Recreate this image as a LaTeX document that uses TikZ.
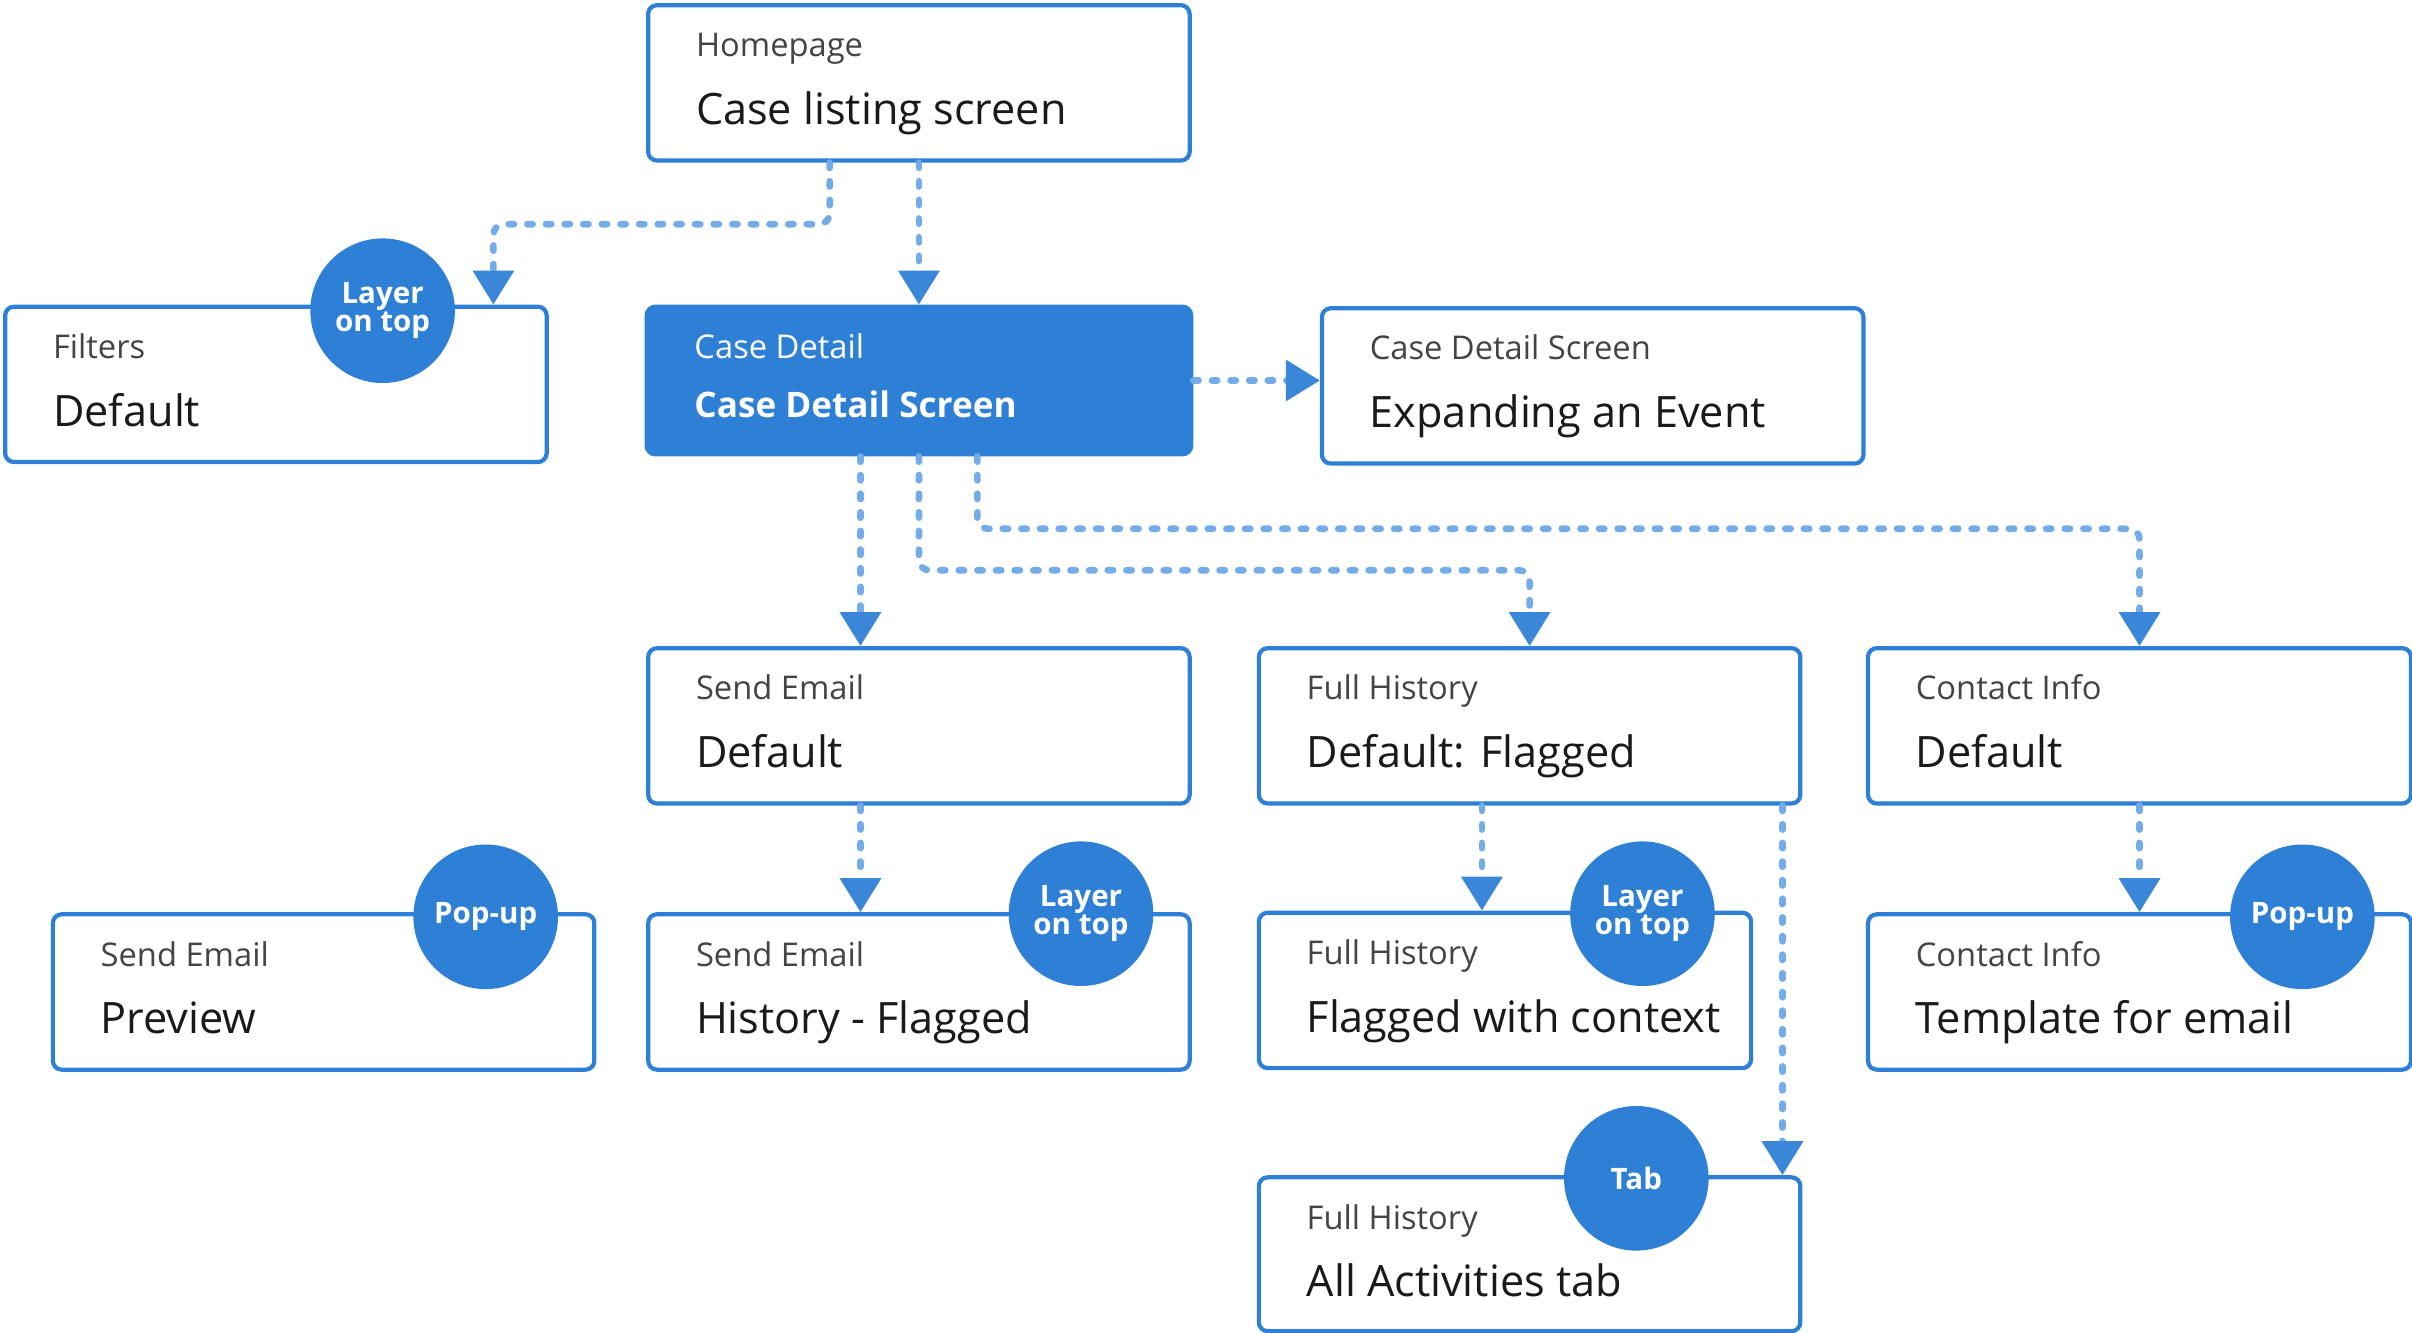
\documentclass[tikz,border=0pt]{standalone}
\usepackage{fontspec}
\setmainfont{Open Sans}
\usetikzlibrary{calc,arrows.meta}
\usepackage{xcolor}
\definecolor{brandblue}{HTML}{2E80D6}
\definecolor{flowblue}{HTML}{74ACE9}
\definecolor{tipblue}{HTML}{3A86D8}
\definecolor{subgrey}{HTML}{444444}
\definecolor{titleblack}{HTML}{1A1A1A}
\newcommand{\unitpx}{0.015383cm}
\tikzset{
  screenbox/.style={draw=brandblue, line width=1.2pt, fill=white, rounded corners=2.5pt, inner sep=0pt},
  highlight/.style={fill=brandblue, text=white},
  screensub/.style={inner sep=0pt, text=subgrey, font=\fontsize{9.3}{11}\selectfont},
  screentitle/.style={inner sep=0pt, text=titleblack, font=\fontsize{12.3}{14}\selectfont},
  badge/.style={circle, fill=brandblue, text=white, inner sep=0pt, minimum size=94*\unitpx,
    align=center, font=\fontsize{8.4}{8}\selectfont\bfseries},
  flow/.style={draw=flowblue, line width=1.9pt, line cap=round, dash pattern=on 1.5pt off 3.8pt,
    rounded corners=3pt, -{Triangle[width=4mm, length=3.4mm, color=tipblue]}},
}
% name, x, y, width, height, subtitle, title, extra style
\newcommand{\screenBox}[8]{%
  \node[screenbox, #8, minimum width=#4*\unitpx, minimum height=#5*\unitpx, anchor=north west]
    (#1) at (#2, #3) {};
  \node[screensub, #8, anchor=base west] (#1-sub) at ($(#1.north west)+(32,35)$) {#6};
  \node[screentitle, #8, anchor=base west] (#1-title) at ($(#1.north west)+(32,79)$) {#7};
}

\begin{document}
\begin{tikzpicture}[x=\unitpx, y=-\unitpx]
  \useasboundingbox (0,0) rectangle (1568,866);

  % Screens
  \screenBox{home}{420}{2}{352}{101}{Homepage}{Case listing screen}{}
  \screenBox{filters}{2}{198}{352}{101}{Filters}{Default}{}
  \screenBox{detail}{419}{198}{354}{96}{Case Detail}{\raisebox{0.9mm}{\fontsize{10}{12}\selectfont\bfseries Case Detail Screen}}{highlight}
  \screenBox{expand}{858}{199}{352}{101}{Case Detail Screen}{Expanding an Event}{}
  \screenBox{emailDef}{420}{420}{352}{101}{Send Email}{Default}{}
  \screenBox{histDef}{817}{420}{352}{101}{Full History}{Default: Flagged}{}
  \screenBox{contactDef}{1213}{420}{353}{101}{Contact Info}{Default}{}
  \screenBox{emailPrev}{33}{593}{352}{101}{Send Email}{Preview}{}
  \screenBox{emailHist}{420}{593}{352}{101}{Send Email}{History - Flagged}{}
  \screenBox{histCtx}{817}{592}{320}{101}{Full History}{Flagged with context}{}
  \screenBox{contactTpl}{1213}{593}{353}{101}{Contact Info}{Template for email}{}
  \screenBox{histAll}{817}{764}{352}{100}{Full History}{All Activities tab}{}

  % Badges
  \node[badge] (filtersTag) at ($(filters.north east)+(-108,4)$) {Layer\\on top};
  \node[badge] (emailPrevTag) at ($(emailPrev.north east)+(-72,3)$) {Pop-up};
  \node[badge] (emailHistTag) at ($(emailHist.north east)+(-72,1)$) {Layer\\on top};
  \node[badge] (histCtxTag) at ($(histCtx.north east)+(-72,2)$) {Layer\\on top};
  \node[badge] (contactTplTag) at ($(contactTpl.north east)+(-72,3)$) {Pop-up};
  \node[badge] (histAllTag) at ($(histAll.north east)+(-108,2)$) {Tab};

  % Connect the screens
  \draw[flow] (home.south) -- (detail.north);
  \draw[flow] ($(home.south)+(-58,0)$) -- ++(0,40) -| ($(filters.north east)+(-36,0)$);
  \draw[flow] (detail.east) -- (detail.east -| expand.west);
  \draw[flow] ($(detail.south)+(-38,0)$) -- ($(emailDef.north)+(-38,0)$);
  \draw[flow] (detail.south) -- ++(0,74) -| (histDef.north);
  \draw[flow] ($(detail.south)+(38,0)$) -- ++(0,47) -| (contactDef.north);
  \draw[flow] ($(emailDef.south)+(-38,0)$) -- ($(emailHist.north)+(-38,0)$);
  \coordinate (ctxOut) at ($(histDef.south)+(-31,0)$);
  \draw[flow] (ctxOut) -- (ctxOut |- histCtx.north);
  \draw[flow] ($(histDef.south east)+(-13,0)$) -- ($(histAll.north east)+(-13,0)$);
  \draw[flow] (contactDef.south) -- (contactTpl.north);
\end{tikzpicture}
\end{document}
